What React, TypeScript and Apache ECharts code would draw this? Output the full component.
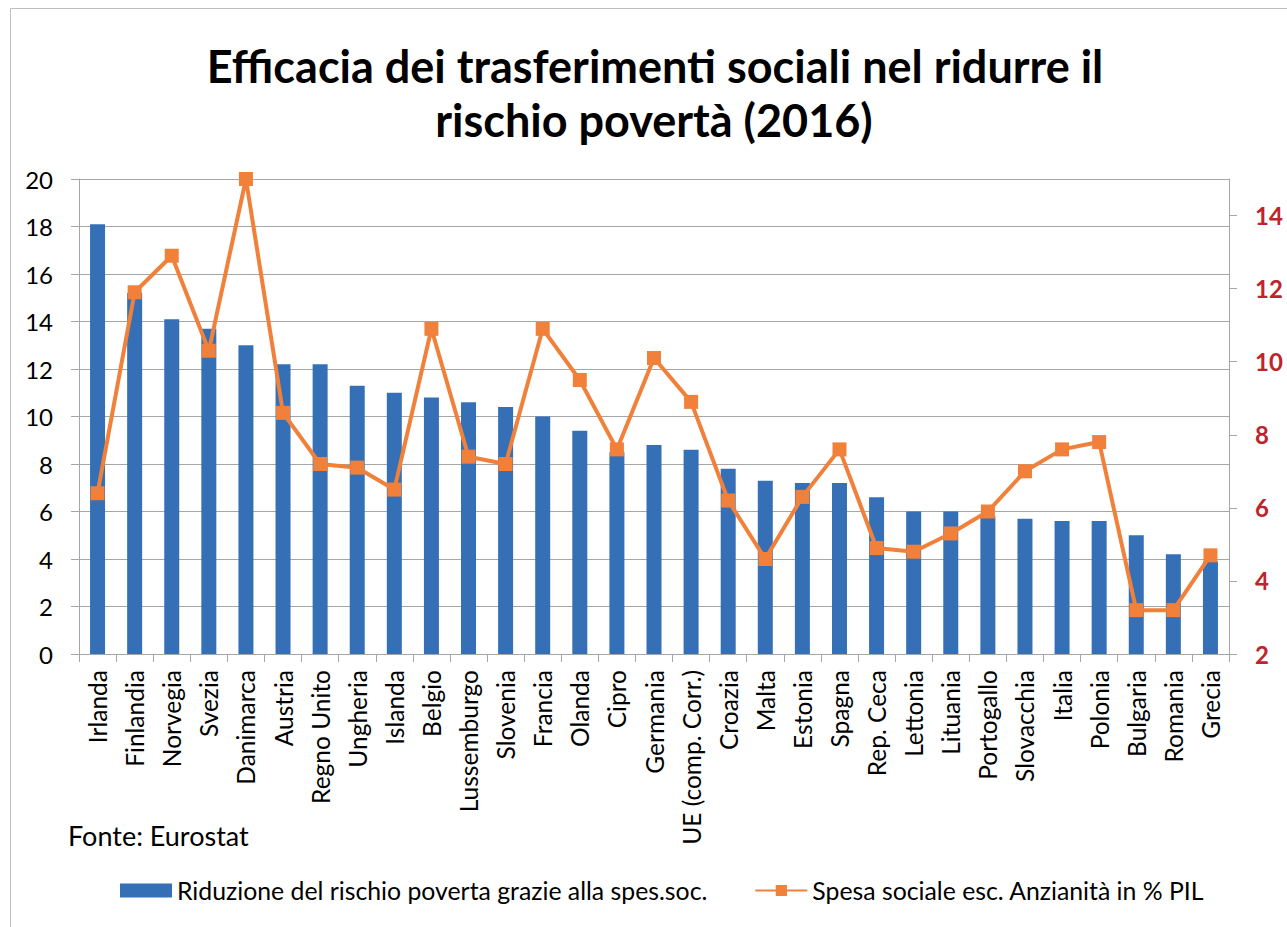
import React, { useEffect, useRef } from "react";
import * as echarts from "echarts";

const categories = [
  "Irlanda", "Finlandia", "Norvegia", "Svezia", "Danimarca", "Austria", "Regno Unito",
  "Ungheria", "Islanda", "Belgio", "Lussemburgo", "Slovenia", "Francia", "Olanda", "Cipro",
  "Germania", "UE (comp. Corr.)", "Croazia", "Malta", "Estonia", "Spagna", "Rep. Ceca",
  "Lettonia", "Lituania", "Portogallo", "Slovacchia", "Italia", "Polonia", "Bulgaria",
  "Romania", "Grecia",
];

const riduzione = [
  18.1, 15.2, 14.1, 13.7, 13.0, 12.2, 12.2, 11.3, 11.0, 10.8, 10.6, 10.4, 10.0, 9.4, 8.5,
  8.8, 8.6, 7.8, 7.3, 7.2, 7.2, 6.6, 6.0, 6.0, 5.8, 5.7, 5.6, 5.6, 5.0, 4.2, 3.9,
];

const spesa = [
  6.4, 11.9, 12.9, 10.3, 15.0, 8.6, 7.2, 7.1, 6.5, 10.9, 7.4, 7.2, 10.9, 9.5, 7.6,
  10.1, 8.9, 6.2, 4.6, 6.3, 7.6, 4.9, 4.8, 5.3, 5.9, 7.0, 7.6, 7.8, 3.2, 3.2, 4.7,
];

const leftTicks = { min: 0, max: 20, interval: 2 };
const rightTicks = { min: 2, max: 15, interval: 2 };

const titleLines = ["Efficacia dei trasferimenti sociali nel ridurre il", "rischio povertà (2016)"];
const seriesNames = [
  "Riduzione del rischio poverta grazie alla spes.soc.",
  "Spesa sociale esc. Anzianità in % PIL",
];
const sourceText = "Fonte: Eurostat";

const FONT = "Lato";

export default function App() {
  const ref = useRef<HTMLDivElement>(null);
  useEffect(() => {
    if (!ref.current) return;
    const chart = echarts.init(ref.current, undefined, { renderer: "svg" });
    const gridColor = "#A6A6A6";
    chart.setOption({
      animation: false,
      backgroundColor: "#ffffff",
      textStyle: { fontFamily: FONT },
      graphic: [
        {
          type: "rect",
          shape: { x: 10.5, y: 8.5, width: 1400, height: 1000 },
          style: { fill: "none", stroke: "#BFBFBF", lineWidth: 1 },
          silent: true,
          z: -10,
        },
        {
          type: "text",
          x: 655,
          y: 66,
          style: {
            text: titleLines[0],
            fontFamily: FONT,
            fontWeight: "bold",
            fontSize: 45,
            fill: "#000",
            align: "center",
            verticalAlign: "middle",
          },
        },
        {
          type: "text",
          x: 654,
          y: 120,
          style: {
            text: titleLines[1],
            fontFamily: FONT,
            fontWeight: "bold",
            fontSize: 45,
            fill: "#000",
            align: "center",
            verticalAlign: "middle",
          },
        },
        {
          type: "text",
          x: 68,
          y: 835,
          style: {
            text: sourceText,
            fontFamily: FONT,
            fontSize: 27,
            fill: "#000",
            verticalAlign: "middle",
          },
        },
      ],
      legend: {
        left: 120,
        top: 878,
        padding: 0,
        itemWidth: 52,
        itemHeight: 14,
        itemGap: 47,
        textStyle: { fontFamily: FONT, fontSize: 24.8, color: "#000", padding: [0, 0, 0, 0] },
        data: [
          { name: seriesNames[0], icon: "rect" },
          { name: seriesNames[1] },
        ],
      },
      grid: {
        left: 79,
        right: 58,
        top: 179,
        bottom: 273,
        containLabel: false,
        outerBoundsMode: "none",
      },
      xAxis: {
        type: "category",
        data: categories,
        boundaryGap: true,
        axisLine: { lineStyle: { color: gridColor, width: 1 } },
        axisTick: { show: true, length: 8, lineStyle: { color: gridColor } },
        axisLabel: {
          interval: 0,
          rotate: 90,
          fontFamily: FONT,
          fontSize: 24.5,
          color: "#000",
          margin: 16,
        },
      },
      yAxis: [
        {
          type: "value",
          min: leftTicks.min,
          max: leftTicks.max,
          interval: leftTicks.interval,
          axisLine: { show: true, lineStyle: { color: gridColor } },
          axisTick: { show: true, length: 8, lineStyle: { color: gridColor } },
          splitLine: { show: true, lineStyle: { color: gridColor, width: 1.2 } },
          axisLabel: { fontFamily: FONT, fontSize: 24, color: "#000", margin: 26 },
        },
        {
          type: "value",
          min: rightTicks.min,
          max: rightTicks.max,
          interval: rightTicks.interval,
          position: "right",
          axisLine: { show: true, lineStyle: { color: gridColor } },
          axisTick: { show: true, length: 8, lineStyle: { color: gridColor } },
          splitLine: { show: false },
          axisLabel: {
            fontFamily: FONT,
            fontSize: 24,
            fontWeight: "bold",
            color: "#C0232B",
            margin: 26,
            showMaxLabel: false,
          },
        },
      ],
      series: [
        {
          name: seriesNames[0],
          type: "bar",
          data: riduzione,
          yAxisIndex: 0,
          barWidth: 15,
          itemStyle: { color: "#3570B7" },
          z: 1,
        },
        {
          name: seriesNames[1],
          type: "line",
          data: spesa,
          yAxisIndex: 1,
          symbol: "rect",
          symbolSize: 14,
          lineStyle: { color: "#F0803A", width: 4 },
          itemStyle: { color: "#F0803A" },
          z: 3,
        },
      ],
    });
    return () => chart.dispose();
  }, []);
  return (
    <div
      ref={ref}
      style={{ position: "fixed", left: 0, top: 0, width: 1287, height: 927 }}
    />
  );
}
